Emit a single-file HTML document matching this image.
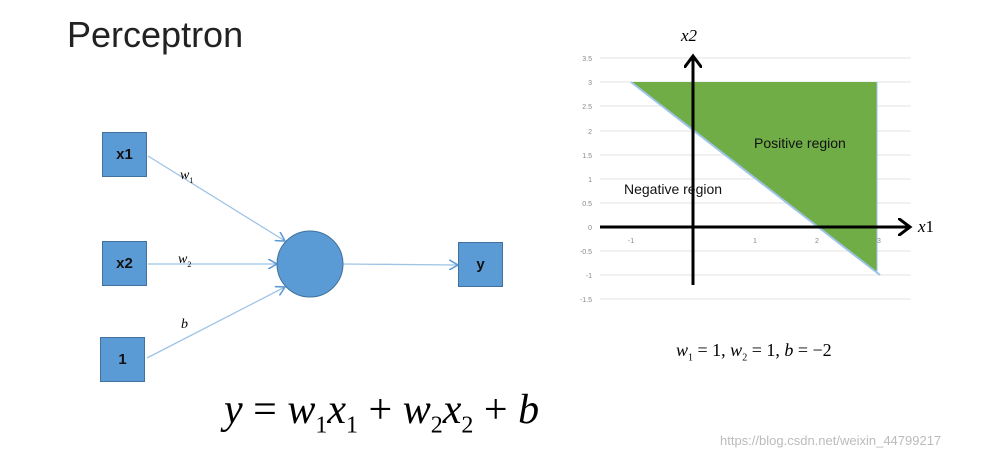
<!DOCTYPE html>
<html><head><style>
body{margin:0;width:999px;height:462px;background:#fff;overflow:hidden;position:relative;font-family:"Liberation Sans",sans-serif}
.t{position:absolute;white-space:nowrap}
.box{position:absolute;width:45px;height:45px;background:#5b9bd5;border:1px solid #41719c;box-sizing:border-box;font-weight:bold;font-size:15px;display:flex;align-items:center;justify-content:center;color:#111}
.m{font-family:"Liberation Serif",serif;font-style:italic}
sub{font-style:normal}
</style></head><body>
<div class="t" style="left:67px;top:14px;font-size:36px;color:#222;font-family:'Liberation Sans',sans-serif">Perceptron</div>
<svg width="999" height="462" style="position:absolute;left:0;top:0">
<defs><marker id="a" markerWidth="8" markerHeight="8" refX="7" refY="4" orient="auto"><path d="M0,0 L7,4 L0,8" fill="none" stroke="#5b9bd5" stroke-width="1.2"/></marker>
<marker id="k" markerWidth="6" markerHeight="6" refX="4" refY="3" orient="auto" markerUnits="strokeWidth"><path d="M0,0 L4,3 L0,6" fill="none" stroke="#000" stroke-width="1"/></marker></defs>
<g stroke="#9dc3e6" stroke-width="1.3" fill="none">
<line x1="148" y1="156" x2="285" y2="241" marker-end="url(#a)"/>
<line x1="148" y1="264" x2="277" y2="264" marker-end="url(#a)"/>
<line x1="147" y1="358" x2="285" y2="287" marker-end="url(#a)"/>
<line x1="343" y1="264" x2="458" y2="265" marker-end="url(#a)"/>
</g>
<circle cx="310" cy="264" r="33" fill="#5b9bd5" stroke="#41719c"/>
<g stroke="#e3e3e3" stroke-width="1">
<line x1="600" y1="58" x2="911" y2="58"/><line x1="600" y1="82" x2="911" y2="82"/><line x1="600" y1="106" x2="911" y2="106"/><line x1="600" y1="131" x2="911" y2="131"/><line x1="600" y1="155" x2="911" y2="155"/><line x1="600" y1="179" x2="911" y2="179"/><line x1="600" y1="203" x2="911" y2="203"/><line x1="600" y1="251" x2="911" y2="251"/><line x1="600" y1="275" x2="911" y2="275"/><line x1="600" y1="299" x2="911" y2="299"/>
</g>
<polygon points="631,82 877,82 877,273" fill="#70ad47"/>
<line x1="631" y1="82" x2="880" y2="275" stroke="#9dc3e6" stroke-width="2"/>
<line x1="877" y1="82" x2="877" y2="273" stroke="#9dc3e6" stroke-width="1"/>
<g stroke="#000" stroke-width="3" fill="none">
<line x1="693" y1="285" x2="693" y2="56" marker-end="url(#k)"/>
<line x1="600" y1="227" x2="910" y2="227" marker-end="url(#k)"/>
</g>
<g font-size="7" fill="#888" font-family="Liberation Sans" text-anchor="end">
<text x="592" y="61">3.5</text><text x="592" y="85">3</text><text x="592" y="109">2.5</text><text x="592" y="134">2</text><text x="592" y="158">1.5</text><text x="592" y="182">1</text><text x="592" y="206">0.5</text><text x="592" y="230">0</text><text x="592" y="254">-0.5</text><text x="592" y="278">-1</text><text x="592" y="302">-1.5</text>
</g>
<g font-size="7" fill="#888" font-family="Liberation Sans" text-anchor="middle">
<text x="631" y="243">-1</text><text x="755" y="243">1</text><text x="817" y="243">2</text><text x="879" y="243">3</text>
</g>
</svg>
<div class="box" style="left:102px;top:132px">x1</div>
<div class="box" style="left:102px;top:241px">x2</div>
<div class="box" style="left:100px;top:337px">1</div>
<div class="box" style="left:458px;top:242px">y</div>
<div class="t m" style="left:180px;top:168px;font-size:14px">w<sub style="font-size:8px">1</sub></div>
<div class="t m" style="left:178px;top:252px;font-size:14px">w<sub style="font-size:8px">2</sub></div>
<div class="t m" style="left:181px;top:317px;font-size:14px">b</div>
<div class="t" style="left:754px;top:135px;font-size:14px;color:#111">Positive region</div>
<div class="t" style="left:624px;top:181px;font-size:14px;color:#111">Negative region</div>
<div class="t m" style="left:681px;top:26px;font-size:17px">x2</div>
<div class="t m" style="left:918px;top:217px;font-size:17px">x<span style="font-style:normal">1</span></div>
<div class="t m" style="left:676px;top:340px;font-size:18px">w<sub style="font-size:10px">1</sub><span style="font-style:normal"> = 1, </span>w<sub style="font-size:10px">2</sub><span style="font-style:normal"> = 1, </span>b<span style="font-style:normal"> = −2</span></div>
<div class="t m" style="left:224px;top:386px;font-size:42px">y<span style="font-style:normal"> = </span>w<sub style="font-size:24px">1</sub>x<sub style="font-size:24px">1</sub><span style="font-style:normal"> + </span>w<sub style="font-size:24px">2</sub>x<sub style="font-size:24px">2</sub><span style="font-style:normal"> + </span>b</div>
<div class="t" style="left:720px;top:433px;font-size:13px;color:#bbb">https://blog.csdn.net/weixin_44799217</div>
</body></html>
